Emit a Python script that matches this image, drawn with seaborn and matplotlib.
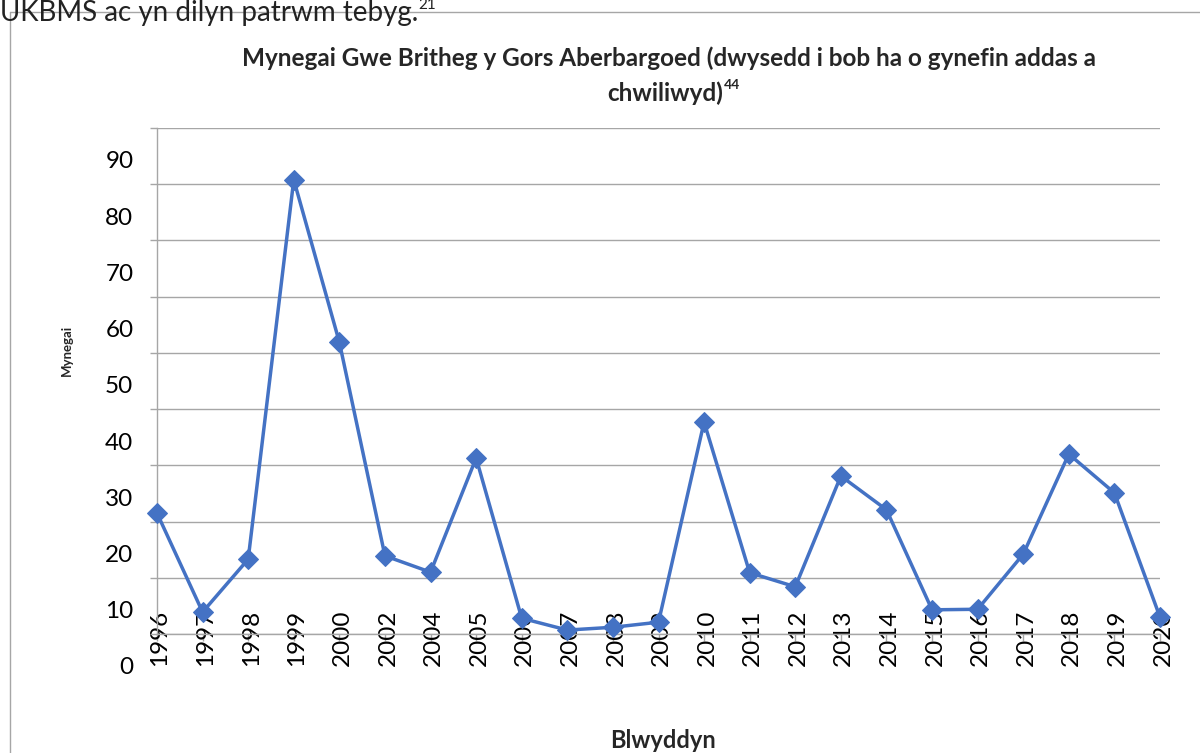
import numpy as np
import pandas as pd
import matplotlib
matplotlib.use('Agg')
import matplotlib.pyplot as plt
import matplotlib.transforms as mtransforms
import seaborn as sns

years = ['1996', '1997', '1998', '1999', '2000', '2002', '2004', '2005', '2006', '2007',
         '2008', '2009', '2010', '2011', '2012', '2013', '2014', '2015', '2016', '2017',
         '2018', '2019', '2020']
mynegai = [21.5, 3.9, 13.3, 80.8, 51.9, 13.9, 11.0, 31.3, 2.8, 0.7,
           1.2, 2.1, 37.7, 10.9, 8.4, 28.1, 22.1, 4.3, 4.4, 14.2,
           32.0, 25.1, 3.0]
ytick_vals = [0, 10, 20, 30, 40, 50, 60, 70, 80, 90]

df = pd.DataFrame({'Blwyddyn': years, 'Mynegai': mynegai})

sns.set_style('white')
plt.rcParams['font.family'] = ['Lato', 'DejaVu Sans']

fig = plt.figure(figsize=(12, 7.53), dpi=100)
ax = fig.add_axes([157 / 1200, 1 - 634 / 753, (1160 - 157) / 1200, (634 - 128) / 753])

sns.lineplot(data=df, x='Blwyddyn', y='Mynegai', sort=False, marker='D', color='#4472C4',
             linewidth=2.5, markersize=10, markeredgecolor='#4472C4', clip_on=False, ax=ax, zorder=3)

ax.set_xlim(0, len(years) - 1)
ax.set_ylim(0, 90)
ax.set_yticks(ytick_vals)
ax.set_yticklabels([str(v) for v in ytick_vals], fontsize=17.5, color='black')
ax.yaxis.grid(True, color='#a6a6a6', linewidth=1)
ax.set_axisbelow(True)
for s in ['top', 'right']:
    ax.spines[s].set_visible(False)
for s in ['left', 'bottom']:
    ax.spines[s].set_color('#a6a6a6')
    ax.spines[s].set_linewidth(1)
ax.tick_params(axis='both', which='both', direction='out', length=5, color='#a6a6a6', width=1,
               left=True, bottom=True)
ax.tick_params(axis='y', pad=12)

# y labels sit lower than the gridlines, as in the source
off_y = mtransforms.ScaledTranslation(0, -32 / 100, fig.dpi_scale_trans)
for lab in ax.get_yticklabels():
    lab.set_transform(lab.get_transform() + off_y)

ax.set_xticks(range(len(years)))
ax.set_xticklabels(years, rotation=90, fontsize=17.5, color='black')
off_x = mtransforms.ScaledTranslation(3 / 100, 36 / 100, fig.dpi_scale_trans)
for lab in ax.get_xticklabels():
    lab.set_transform(lab.get_transform() + off_x)

ax.set_xlabel('')
ax.set_ylabel('')
fig.text(67 / 1200, 1 - 350 / 753, 'Mynegai', rotation=90, fontsize=9.5, fontweight='bold',
         ha='center', va='center')
fig.text(663 / 1200, 1 - 741 / 753, 'Blwyddyn', fontsize=17, fontweight='bold',
         ha='center', va='center')

fig.text(669 / 1200, 1 - 58 / 753,
         'Mynegai Gwe Britheg y Gors Aberbargoed (dwysedd i bob ha o gynefin addas a',
         fontsize=17.5, fontweight='bold', ha='center', va='center')
fig.text(723 / 1200, 1 - 93 / 753, 'chwiliwyd)', fontsize=17.5, fontweight='bold',
         ha='right', va='center')
fig.text(724 / 1200, 1 - 85 / 753, '44', fontsize=10, fontweight='bold', ha='left', va='center')

# text from the page above the chart, cut by the top edge
fig.text(0, 1 - 21 / 753, 'UKBMS ac yn dilyn patrwm tebyg.', fontsize=20, color='#222222',
         ha='left', va='baseline')
fig.text(418 / 1200, 1 - 9 / 753, '21', fontsize=11, color='#222222', ha='left', va='baseline')

# chart frame
fig.add_artist(plt.Line2D([10 / 1200, 1], [1 - 12 / 753, 1 - 12 / 753], color='#a6a6a6', linewidth=1))
fig.add_artist(plt.Line2D([10 / 1200, 10 / 1200], [0, 1 - 12 / 753], color='#a6a6a6', linewidth=1))

fig.savefig('out.png', dpi=100)
